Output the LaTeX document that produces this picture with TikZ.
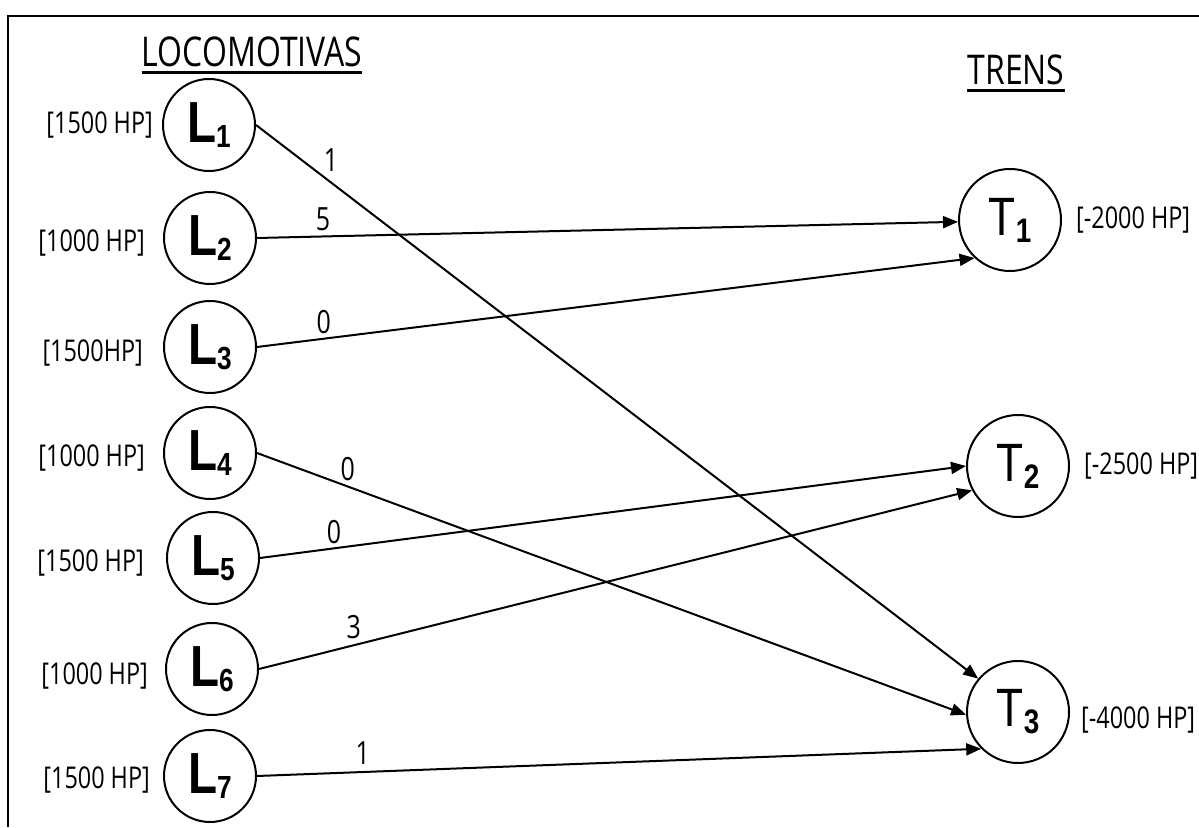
\documentclass[tikz,border=0pt]{standalone}
\usepackage{fontspec}
\setmainfont{Open Sans}
\newfontfamily\lblfont{Open Sans}[FakeStretch=0.78]
\newfontfamily\letterfont{Liberation Sans}[FakeStretch=0.82]
\usepackage{tikz}
\usetikzlibrary{arrows.meta, positioning}

\newcommand{\lsub}[1]{\raisebox{-5pt}{\fontsize{32}{32}\selectfont\bfseries #1}}
\newcommand{\tsub}[1]{\raisebox{-7pt}{\fontsize{34}{34}\selectfont\bfseries #1}}

\begin{document}
\begin{tikzpicture}[
  x=1pt, y=1pt,
  locnode/.style = {circle, draw=black, line width=2pt, minimum size=92pt,
                    inner sep=0pt, font=\letterfont\bfseries\fontsize{58}{58}\selectfont},
  trnode/.style  = {circle, draw=black, line width=2pt, minimum size=102pt,
                    inner sep=0pt, font=\letterfont\fontsize{54}{54}\selectfont},
  hplbl/.style   = {inner sep=0pt, font=\lblfont\fontsize{30}{30}\selectfont},
  wlbl/.style    = {inner sep=2pt, font=\lblfont\fontsize{32}{32}\selectfont},
  hdr/.style     = {inner sep=0pt, anchor=base, font=\lblfont\fontsize{41}{41}\selectfont},
  arr/.style     = {-{Triangle[length=15pt, width=12pt]}, line width=2pt},
  uline/.style   = {line width=3pt}
]
\useasboundingbox (0,0) rectangle (1199,827);
\draw[line width=2pt] (8,0) -- (8,811) -- (1199,811);

\node[hdr] (loco) at (252,760) {LOCOMOTIVAS};
\node[hdr] (trens) at (1016,742) {TRENS};
\draw[uline] ([yshift=-6pt]loco.base west) -- ([yshift=-6pt]loco.base east);
\draw[uline] ([yshift=-6pt]trens.base west) -- ([yshift=-6pt]trens.base east);

\node[locnode] (L1) at (209,702) {L\lsub{1}};
\node[locnode] (L2) at (210,589) {L\lsub{2}};
\node[locnode] (L3) at (210,480) {L\lsub{3}};
\node[locnode] (L4) at (210,374) {L\lsub{4}};
\node[locnode] (L5) at (213,269) {L\lsub{5}};
\node[locnode] (L6) at (212,158) {L\lsub{6}};
\node[locnode] (L7) at (210,51)  {L\lsub{7}};

\node[trnode] (T1) at (1010,607) {T\tsub{1}};
\node[trnode] (T2) at (1018,361) {T\tsub{2}};
\node[trnode] (T3) at (1018,115) {T\tsub{3}};

\node[hplbl, left=9pt of L1] (hp1) {[1500 HP]};
\node[hplbl, left=18pt of L2, yshift=-5pt] (hp2) {[1000 HP]};
\node[hplbl, left=20pt of L3, yshift=-6pt] (hp3) {[1500HP]};
\node[hplbl, left=18pt of L4, yshift=-5pt] (hp4) {[1000 HP]};
\node[hplbl, left=22pt of L5, yshift=-5pt] (hp5) {[1500 HP]};
\node[hplbl, left=17pt of L6, yshift=-7pt] (hp6) {[1000 HP]};
\node[hplbl, left=13pt of L7, yshift=-4pt] (hp7) {[1500 HP]};

\node[hplbl, right=14pt of T1] (hpt1) {[-2000 HP]};
\node[hplbl, right=14pt of T2] (hpt2) {[-2500 HP]};
\node[hplbl, right=11pt of T3, yshift=-8pt] (hpt3) {[-4000 HP]};

\draw[arr] (L1.east) -- node[wlbl, pos=0.09, above right] {1} (T3.140);
\draw[arr] (L2.east) -- node[wlbl, pos=0.094, above=3pt] {5} (T1.182);
\draw[arr] (L3.east) -- node[wlbl, pos=0.093, above=2pt] {0} (T1.227);
\draw[arr] (L4.east) -- node[wlbl, pos=0.128, above=3pt] {0} (T3.183);
\draw[arr] (L5.east) -- node[wlbl, pos=0.105, above=2pt] {0} (T2.west);
\draw[arr] (L6.east) -- node[wlbl, pos=0.133, above=3pt] {3} (T2.208);
\draw[arr] (L7.east) -- node[wlbl, pos=0.146, above=5pt] {1} (T3.225);
\end{tikzpicture}
\end{document}
